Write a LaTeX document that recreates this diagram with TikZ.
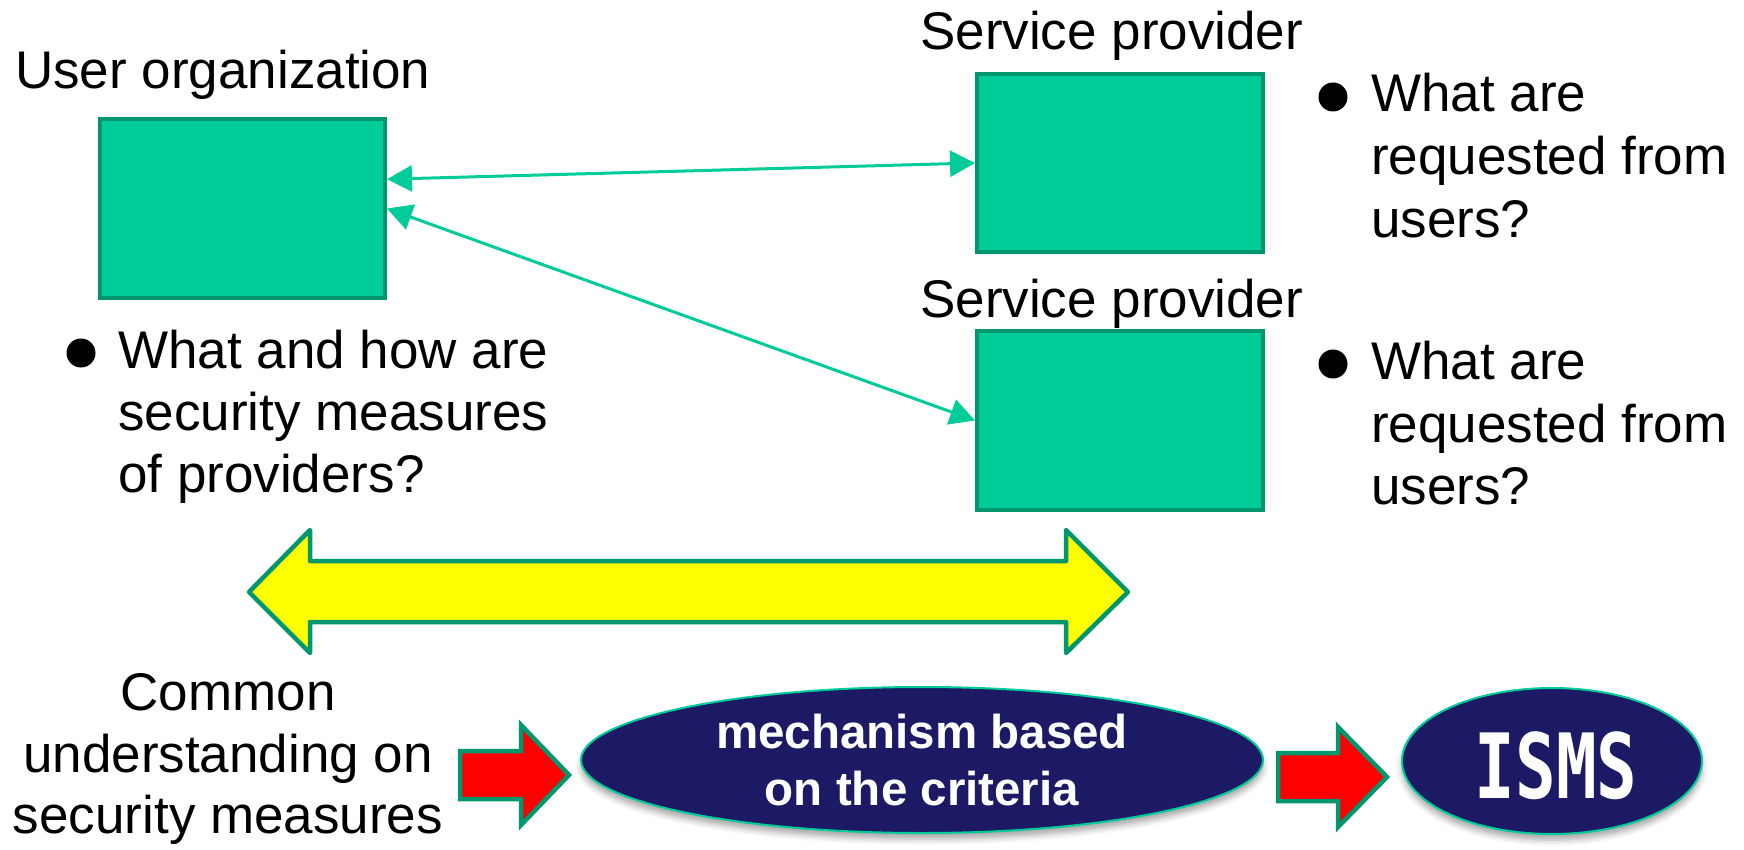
\documentclass[tikz,border=0pt]{standalone}
\usepackage{fontspec}
\setmainfont{Liberation Sans}
\newfontfamily\ismsfont{DejaVu Sans Mono}
\usetikzlibrary{arrows.meta,calc,shapes.geometric,shadows.blur}

\definecolor{boxfill}{HTML}{00CC99}
\definecolor{boxline}{HTML}{00966E}
\definecolor{navy}{RGB}{28,26,100}
\definecolor{bandfill}{HTML}{FFFF00}
\definecolor{pushfill}{HTML}{FF0000}

\begin{document}
\begin{tikzpicture}[x=1pt,y=-1pt,
  gbox/.style={draw=boxline, fill=boxfill, line width=4pt, inner sep=0pt,
               minimum width=285pt, minimum height=179pt},
  txt/.style={anchor=base west, inner sep=0pt, font=\fontsize{53}{62}\selectfont},
  ctxt/.style={txt, anchor=base},
  dot/.style={circle, fill=black, inner sep=0pt, minimum size=29pt},
  link/.style={draw=boxfill, line width=3pt, >={Triangle[length=25pt,width=26pt]}, <->},
  fat/.style={draw=boxline, line width=4.5pt, line join=round},
  oval/.style={ellipse, draw=boxfill, line width=2pt, fill=navy, inner sep=0pt,
               blur shadow={shadow xshift=0pt, shadow yshift=-6pt,
                            shadow blur radius=6pt, shadow opacity=35}},
  wtxt/.style={anchor=base, inner sep=0pt, text=white,
               font=\bfseries\fontsize{47.5}{57}\selectfont}]

\useasboundingbox (0,0) rectangle (1744,850);

% organisations
\node[gbox] (user) at (242.5,208.5) {};
\node[gbox, minimum width=286pt, minimum height=178pt] (sp1) at (1120,163) {};
\node[gbox, minimum width=286pt, minimum height=179pt] (sp2) at (1120,420.5) {};

\node[txt] (userlbl) at (15,89) {User organization};
\node[txt] (sp1lbl) at (920,50) {Service provider};
\node[txt] (sp2lbl) at (920,317) {Service provider};

% links between user and providers
\draw[link] ($(user.north east)!0.34!(user.south east)$) -- (sp1.west);
\draw[link] (user.east) -- (sp2.west);

% questions
\node[dot] (dotu) at (81,353) {};
\node[txt] (qu1) at (118,368) {What and how are};
\node[txt] (qu2) at (118,430) {security measures};
\node[txt] (qu3) at (118,492) {of providers?};

\node[dot] (dota) at (1333,97) {};
\node[txt] (qa1) at (1371,112) {What are};
\node[txt] (qa2) at (1371,175) {requested from};
\node[txt] (qa3) at (1371,237) {users?};

\node[dot] (dotb) at (1333,364) {};
\node[txt] (qb1) at (1371,379) {What are};
\node[txt] (qb2) at (1371,442) {requested from};
\node[txt] (qb3) at (1371,504) {users?};

% mutual understanding band
\draw[fat, fill=bandfill] (249,592) -- (310,530) -- (310,561) -- (1066,561)
  -- (1066,530) -- (1128,592) -- (1066,653) -- (1066,622) -- (310,622)
  -- (310,653) -- cycle;

% bottom row
\node[ctxt] (cu1) at (228,710) {Common};
\node[ctxt] (cu2) at (228,772) {understanding on};
\node[ctxt] (cu3) at (228,833) {security measures};

\draw[fat, line join=miter, fill=pushfill] (460,751) -- (521,751) -- (521,725)
  -- (569,775) -- (521,825) -- (521,799) -- (460,799) -- cycle;

\node[oval, minimum width=682pt, minimum height=146pt] (mech) at (922,760) {};
\node[wtxt] (mech1) at (922,748) {mechanism based};
\node[wtxt] (mech2) at (922,805) {on the criteria};

\draw[fat, line join=miter, fill=pushfill] (1278,753) -- (1338,753) -- (1338,727)
  -- (1387,777) -- (1338,827) -- (1338,801) -- (1278,801) -- cycle;

\node[oval, minimum width=300pt, minimum height=146pt] (isms) at (1552,761) {};
\node[anchor=base, inner sep=0pt, text=white,
      font=\ismsfont\bfseries\fontsize{90}{90}\selectfont] (ismstxt) at (1556,798)
      {\scalebox{0.75}[1]{ISMS}};

\end{tikzpicture}
\end{document}
